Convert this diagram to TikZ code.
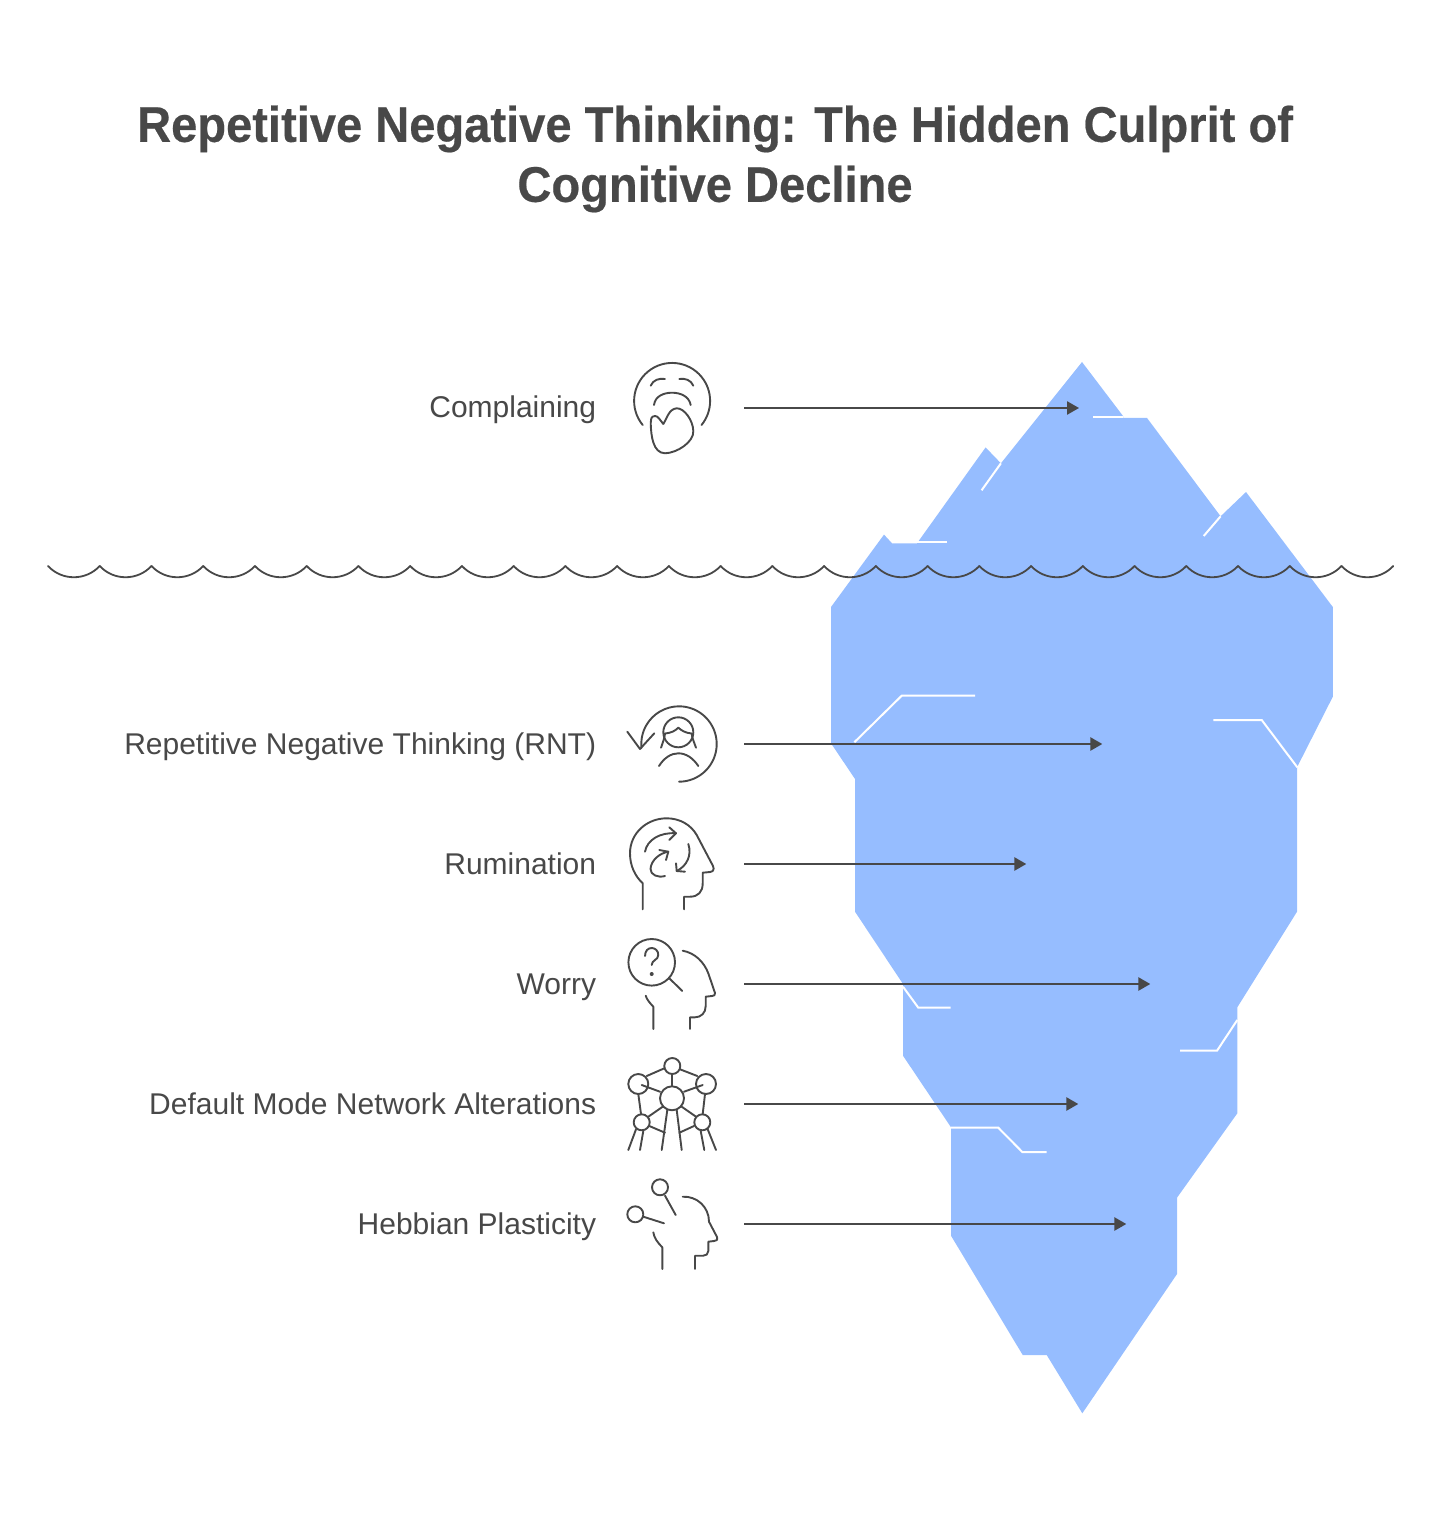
\documentclass[tikz,border=0pt]{standalone}
\usepackage{fontspec}
\setmainfont{Liberation Sans}
\newfontfamily\titlefont[FakeStretch=0.942,FakeBold=0.4]{Liberation Sans Bold}
\usepackage{xcolor}
\definecolor{icemain}{RGB}{150,189,255}
\definecolor{inkgray}{RGB}{72,72,72}
\usetikzlibrary{arrows.meta}
\tikzset{
  iconline/.style={draw=inkgray,line width=0.95pt,line cap=round,line join=round},
  iceline/.style={draw=white,line width=1pt},
  labeltext/.style={anchor=base east,inner sep=0pt,text=inkgray,font=\fontsize{15}{18}\selectfont},
  iconslot/.style={minimum width=72pt,minimum height=40pt,inner sep=0pt,outer sep=0pt},
  pointer/.style={draw=inkgray,line width=1pt,-{Triangle[length=6pt,width=6.6pt]}}
}
\begin{document}
\begin{tikzpicture}[x=0.5pt,y=-0.5pt]
  % Lienzo 1442 x 1513 ; coordenadas en pixeles
  \useasboundingbox (0,0) rectangle (1442,1513);
  % --- Iceberg ---
  \fill[icemain] (1082,362) -- (1123,416) -- (1123,418) -- (1147,418) -- (1220.6,516.3) -- (1246,492) -- (1332.8,607) -- (1332.8,696.7)
    -- (1297,767.3) -- (1297,911.7) -- (1237.3,1007.3) -- (1237.3,1113.3) -- (1177,1197.7) -- (1177,1274) -- (1082.3,1413.3)
    -- (1046.7,1355) -- (1022.7,1355) -- (951,1235.7) -- (951,1127.3) -- (903,1055.7) -- (903,984) -- (855,911.7)
    -- (855,779) -- (831,743.3) -- (831,607) -- (884,534.6) -- (892,543.3) -- (917,543.3) -- (985.6,447.4) -- (1000.9,463.3) -- cycle;
  % --- Grietas ---
  \draw[iceline] (1093,417) -- (1123,417);
  \draw[iceline] (1000.9,463.3) -- (981.6,490.3);
  \draw[iceline] (916,542.4) -- (947,542.4);
  \draw[iceline] (1220.6,516.3) -- (1203.7,536);
  \draw[iceline] (854.3,742.3) -- (901.7,695.7) -- (975,695.7);
  \draw[iceline] (1213.3,720) -- (1261.7,720) -- (1297.3,767.3);
  \draw[iceline] (903,986.7) -- (918.3,1007.7) -- (950.7,1007.7);
  \draw[iceline] (1237.3,1020) -- (1217,1050.7) -- (1180,1050.7);
  \draw[iceline] (950.7,1127.7) -- (998.3,1127.7) -- (1022.3,1152) -- (1046.7,1152);
  % --- Linea de agua ---
  \foreach \k in {0,...,25}{
    \pgfmathsetmacro{\xa}{48+51.74*\k}
    \draw[iconline,line width=0.9pt] (\xa,566) .. controls (\xa+14,581) and (\xa+37.7,581) .. (\xa+51.74,566);
  }
  % --- Titulo ---
  \node[inner sep=0pt,align=center,text=inkgray,font=\fontsize{25}{30}\titlefont] (title) at (715,159)
    {Repetitive Negative Thinking: The Hidden Culprit of\\Cognitive Decline};
  % --- Etiquetas ---
  \node[labeltext] (complainlabel) at (596.5,418) {Complaining};
  \node[labeltext] (rntlabel) at (596.5,754) {Repetitive Negative Thinking (RNT)};
  \node[labeltext] (ruminationlabel) at (596.5,874) {Rumination};
  \node[labeltext] (worrylabel) at (596.5,994) {Worry};
  \node[labeltext] (dmnlabel) at (596.5,1114) {Default Mode Network Alterations};
  \node[labeltext] (hebbianlabel) at (596.5,1234) {Hebbian Plasticity};
  % --- Flechas ---
  \node[iconslot] (complainicon) at (672,408) {};
  \node[iconslot] (rnticon) at (672,744) {};
  \node[iconslot] (ruminationicon) at (672,864) {};
  \node[iconslot] (worryicon) at (672,984) {};
  \node[iconslot] (dmnicon) at (672,1104) {};
  \node[iconslot] (hebbianicon) at (672,1224) {};
  \coordinate (complaintip) at (1079,408);
  \coordinate (rnttip) at (1102.3,744);
  \coordinate (ruminationtip) at (1026.3,864);
  \coordinate (worrytip) at (1150.3,984);
  \coordinate (dmntip) at (1078.3,1104);
  \coordinate (hebbiantip) at (1126.3,1224);
  \draw[pointer] (complainicon) -- (complaintip);
  \draw[pointer] (rnticon) -- (rnttip);
  \draw[pointer] (ruminationicon) -- (ruminationtip);
  \draw[pointer] (worryicon) -- (worrytip);
  \draw[pointer] (dmnicon) -- (dmntip);
  \draw[pointer] (hebbianicon) -- (hebbiantip);
  % --- Icono queja ---
  \draw[iconline] (642.7,425) arc[start angle=140.7,end angle=399.3,radius=38];
  \draw[iconline] (650.7,385.7) .. controls (653,380) and (659,378) .. (665,379);
  \draw[iconline] (679.3,379) .. controls (685,378) and (691,380) .. (693.3,385.7);
  \draw[iconline] (654,405) .. controls (655,396) and (664,392.7) .. (672,392.7) .. controls (680,392.7) and (689,396) .. (690.7,405);
  \draw[iconline] (663.3,424) .. controls (660,420) and (658,416) .. (655,416) .. controls (651,416) and (650.5,420) .. (650.7,423)
    .. controls (651,436) and (653,453) .. (665,453.3) .. controls (677,453) and (694,442) .. (693.3,431)
    .. controls (693,420) and (684,408) .. (676.7,408.3) .. controls (669,409) and (667,418) .. (663.3,424);
  % --- Icono RNT ---
  \draw[iconline] (679,781.7) arc[start angle=90,end angle=-186,radius=37.7];
  \draw[iconline] (627.3,731.7) -- (640,749) -- (654.3,733.3);
  \draw[iconline] (678.3,732.3) circle[radius=15];
  \draw[iconline] (661,747.7) .. controls (663,742) and (664.5,738) .. (665,733.5) .. controls (671,733) and (675,731) .. (678.3,727.7)
    .. controls (682,731) and (686,733) .. (691.7,733.5) .. controls (692,738) and (694,742) .. (696,747.7);
  \draw[iconline] (659,766) .. controls (664,758) and (671,753.3) .. (678.3,753.3) .. controls (686,753.3) and (693,758) .. (698.3,766);
  % --- Icono rumiacion ---
  \draw[iconline] (642.7,909.3) -- (642.7,883.3) .. controls (635,876) and (630,866) .. (630,853.3)
    .. controls (630,833) and (647,818.3) .. (666.7,818.3) .. controls (680,818.3) and (691,825) .. (696.7,835)
    -- (713,866) .. controls (714.5,870) and (713,871.5) .. (710,872) -- (702.7,872.7) -- (702.7,883.3)
    .. controls (702.7,892) and (698,896.7) .. (690,896.7) -- (684,896.7) -- (684,909.3);
  \draw[iconline] (645,851.7) .. controls (647,840) and (660,832) .. (676,833.3);
  \draw[iconline] (669.3,827.3) -- (676,833.3) -- (669.3,840);
  \draw[iconline] (688.3,844) .. controls (692,855) and (687,866) .. (676.7,871);
  \draw[iconline] (676,863.3) -- (676.7,871) -- (685,871.7);
  \draw[iconline] (668.3,851.7) .. controls (660,853) and (651,860) .. (650.5,869) .. controls (650.5,875) and (658,878) .. (665,876);
  \draw[iconline] (659.3,850) -- (668.3,851.7) -- (666,860);
  % --- Icono preocupacion ---
  \draw[iconline] (651.7,962.3) circle[radius=23.3];
  \draw[iconline] (669.3,978.3) -- (682.3,991);
  \draw[iconline] (645,956) .. controls (645,945) and (658.3,946) .. (658.3,955) .. controls (658.3,960) and (651.7,960) .. (651.7,965);
  \fill[inkgray] (651.7,974) circle[radius=2];
  \draw[iconline] (682.7,950.7) .. controls (695,953) and (704,962) .. (708.3,973.3) -- (715,993) .. controls (715.5,995) and (714,996) .. (712,996)
    -- (705.7,996.7) -- (705.7,1006) .. controls (705.7,1013) and (701,1017.3) .. (695,1017.3) -- (690,1017.3) -- (690,1029);
  \draw[iconline] (645.7,995.7) .. controls (647,1000) and (650,1003) .. (653.3,1006.7) -- (653.3,1029);
  % --- Icono red por defecto ---
  \draw[iconline] (672.3,1066) circle[radius=8];
  \draw[iconline] (638.3,1084) circle[radius=10];
  \draw[iconline] (706,1084) circle[radius=10];
  \draw[iconline] (672,1098.3) circle[radius=12];
  \draw[iconline] (641.7,1122.3) circle[radius=8];
  \draw[iconline] (702.3,1122.3) circle[radius=8];
  \draw[iconline] (646.7,1076) -- (664.3,1068.3);
  \draw[iconline] (680,1069.3) -- (697.3,1076);
  \draw[iconline] (672.3,1074) -- (672.3,1086);
  \draw[iconline] (641.7,1085) -- (660,1091.7);
  \draw[iconline] (702.7,1085) -- (684,1091.7);
  \draw[iconline] (638.3,1094) -- (641,1114);
  \draw[iconline] (705,1094) -- (702.7,1114);
  \draw[iconline] (662.7,1106.7) -- (648.3,1116.7);
  \draw[iconline] (681.7,1106.7) -- (696,1116.7);
  \draw[iconline] (649.3,1126) -- (665,1132.7);
  \draw[iconline] (694,1126) -- (679.3,1132.7);
  \draw[iconline] (667.3,1110) -- (661.7,1150);
  \draw[iconline] (676.7,1110) -- (681.7,1150);
  \draw[iconline] (636,1129.3) -- (628.3,1150);
  \draw[iconline] (643.3,1131) -- (640,1150);
  \draw[iconline] (700.7,1131) -- (704.3,1150);
  \draw[iconline] (707.7,1129.3) -- (716,1150);
  % --- Icono plasticidad ---
  \draw[iconline] (660,1187.3) circle[radius=8];
  \draw[iconline] (665,1195.7) -- (675.7,1215);
  \draw[iconline] (635.3,1214.3) circle[radius=8];
  \draw[iconline] (643.3,1216.7) -- (664,1223.3);
  \draw[iconline] (682.7,1196.7) .. controls (697,1196) and (709,1207) .. (709,1221.7) -- (717,1237) .. controls (718,1240) and (716,1241) .. (714,1241)
    -- (708.3,1241.7) -- (708.3,1251) .. controls (708.3,1254) and (706,1255.7) .. (703.3,1255.7) -- (695,1255.7) -- (695,1269);
  \draw[iconline] (653.3,1232.3) .. controls (654,1238) and (658,1243) .. (662.3,1247.3) -- (662.3,1269);
\end{tikzpicture}
\end{document}
